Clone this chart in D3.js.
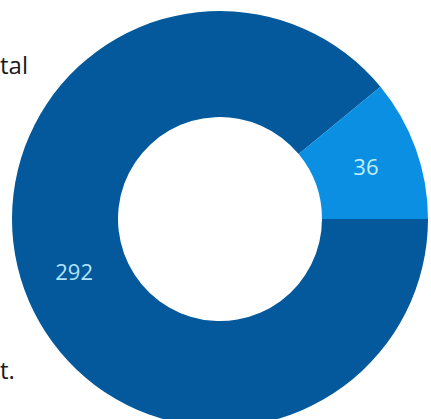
<!DOCTYPE html>
<html>
<head>
<meta charset="utf-8">
<script src="https://cdn.jsdelivr.net/npm/d3@7"></script>
<style>
  html, body { margin: 0; padding: 0; background: #fff; overflow: hidden; }
  svg { display: block; }
</style>
</head>
<body>
<div id="chart"></div>
<script>
// Donut: two slices, cropped view
const categories = ["Other", "Selected"];
const values = [292, 36];
const colors = ["#03599b", "#0b8fe2"];
const labelColors = ["#b3e4ff", "#c2efff"];

const width = 431, height = 419;
const cx = 220, cy = 219;
const outerR = 208, innerR = 102;

const svg = d3.select("#chart")
  .append("svg")
  .attr("width", width)
  .attr("height", height);

// side texts (only the visible part of the original)
svg.append("text")
  .attr("x", 0)
  .attr("y", 74)
  .attr("font-family", "Open Sans, sans-serif")
  .attr("font-size", 24)
  .attr("fill", "#1a1a1a")
  .text("tal");

svg.append("text")
  .attr("x", 0)
  .attr("y", 379)
  .attr("font-family", "Open Sans, sans-serif")
  .attr("font-size", 24)
  .attr("fill", "#1a1a1a")
  .text("t.");

const pie = d3.pie()
  .sort(null)
  .startAngle(Math.PI / 2)
  .endAngle(Math.PI / 2 + 2 * Math.PI)
  .value(d => d);

const arc = d3.arc()
  .innerRadius(innerR)
  .outerRadius(outerR);

const g = svg.append("g")
  .attr("transform", `translate(${cx},${cy})`);

const arcs = pie(values);

g.selectAll("path")
  .data(arcs)
  .enter().append("path")
  .attr("d", arc)
  .attr("fill", (d, i) => colors[i]);

g.selectAll("text")
  .data(arcs)
  .enter().append("text")
  .attr("transform", d => `translate(${arc.centroid(d)})`)
  .attr("text-anchor", "middle")
  .attr("dy", "0.38em")
  .attr("font-family", "Open Sans, sans-serif")
  .attr("font-size", 22)
  .attr("font-weight", 500)
  .attr("fill", (d, i) => labelColors[i])
  .text(d => d.data);
</script>
</body>
</html>
